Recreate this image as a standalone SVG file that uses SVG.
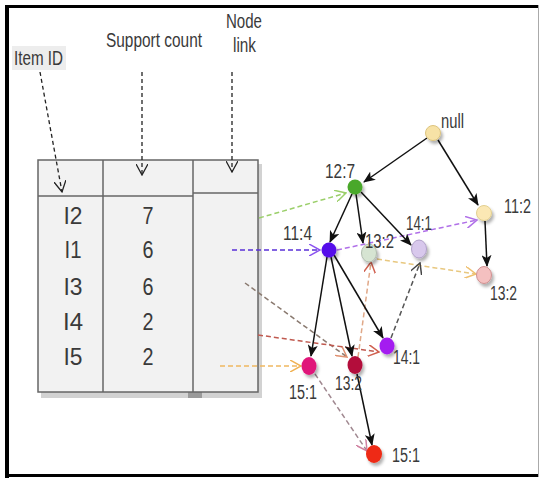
<svg xmlns="http://www.w3.org/2000/svg" width="542" height="480" viewBox="0 0 542 480">
<defs>
<style>
.t{font-family:"Liberation Sans",Arial,sans-serif;fill:#3a3a3a;}
.lbl{font-size:20.5px;}
.cell{font-size:24px;text-anchor:middle;}
.solid{stroke:#111;stroke-width:1.5;fill:none;marker-end:url(#ab);}
.dash{fill:none;stroke-width:1.5;stroke-dasharray:5 3;}
.hdr{fill:none;stroke:#222;stroke-width:1.3;stroke-dasharray:4 3;marker-end:url(#ok);}
</style>
<filter id="sh" x="-50%" y="-50%" width="200%" height="200%">
<feDropShadow dx="2" dy="3" stdDeviation="1.5" flood-color="#000" flood-opacity="0.3"/>
</filter>
<marker id="ab" viewBox="0 0 12 10" refX="11" refY="5" markerWidth="12" markerHeight="10" markerUnits="userSpaceOnUse" orient="auto"><path d="M0,0 L12,5 L0,10 L3,5 z" fill="#111"/></marker>
<marker id="ok" viewBox="0 0 12 12" refX="11" refY="6" markerWidth="12" markerHeight="12" markerUnits="userSpaceOnUse" orient="auto"><path d="M0,0 L11,6 L0,12" fill="none" stroke="#222" stroke-width="1.3"/></marker>
<marker id="mg" viewBox="0 0 12 12" refX="11" refY="6" markerWidth="12" markerHeight="12" markerUnits="userSpaceOnUse" orient="auto"><path d="M0,0 L11,6 L0,12" fill="none" stroke="#9bcf6a" stroke-width="1.5"/></marker>
<marker id="mb" viewBox="0 0 12 12" refX="11" refY="6" markerWidth="12" markerHeight="12" markerUnits="userSpaceOnUse" orient="auto"><path d="M0,0 L11,6 L0,12" fill="none" stroke="#8a50f0" stroke-width="1.5"/></marker>
<marker id="mv" viewBox="0 0 12 12" refX="11" refY="6" markerWidth="12" markerHeight="12" markerUnits="userSpaceOnUse" orient="auto"><path d="M0,0 L11,6 L0,12" fill="none" stroke="#b070e8" stroke-width="1.5"/></marker>
<marker id="my" viewBox="0 0 12 12" refX="11" refY="6" markerWidth="12" markerHeight="12" markerUnits="userSpaceOnUse" orient="auto"><path d="M0,0 L11,6 L0,12" fill="none" stroke="#efc070" stroke-width="1.5"/></marker>
<marker id="mr" viewBox="0 0 12 12" refX="11" refY="6" markerWidth="12" markerHeight="12" markerUnits="userSpaceOnUse" orient="auto"><path d="M0,0 L11,6 L0,12" fill="none" stroke="#e09070" stroke-width="1.5"/></marker>
<marker id="ms" viewBox="0 0 12 12" refX="11" refY="6" markerWidth="12" markerHeight="12" markerUnits="userSpaceOnUse" orient="auto"><path d="M0,0 L11,6 L0,12" fill="none" stroke="#d06050" stroke-width="1.5"/></marker>
<marker id="md" viewBox="0 0 12 12" refX="11" refY="6" markerWidth="12" markerHeight="12" markerUnits="userSpaceOnUse" orient="auto"><path d="M0,0 L11,6 L0,12" fill="none" stroke="#444" stroke-width="1.5"/></marker>
<marker id="mo" viewBox="0 0 12 12" refX="11" refY="6" markerWidth="12" markerHeight="12" markerUnits="userSpaceOnUse" orient="auto"><path d="M0,0 L11,6 L0,12" fill="none" stroke="#f0b050" stroke-width="1.5"/></marker>
<marker id="mp" viewBox="0 0 12 12" refX="11" refY="6" markerWidth="12" markerHeight="12" markerUnits="userSpaceOnUse" orient="auto"><path d="M0,0 L11,6 L0,12" fill="none" stroke="#d080a0" stroke-width="1.5"/></marker>
</defs>
<rect width="542" height="480" fill="#fff"/>
<g id="frame">
<rect x="5" y="5" width="4" height="473" fill="#000"/>
<rect x="5" y="5" width="533" height="3" fill="#000"/>
<rect x="5" y="474" width="533" height="3" fill="#000"/>
<line x1="538.5" y1="5" x2="538.5" y2="477" stroke="#aaa" stroke-width="1"/>
</g>
<g id="headers">
<rect x="12" y="46" width="54" height="24" fill="#ededed"/>
<text class="t lbl" x="14" y="65" textLength="49" lengthAdjust="spacingAndGlyphs">Item ID</text>
<text class="t lbl" x="106" y="47" textLength="96" lengthAdjust="spacingAndGlyphs">Support count</text>
<text class="t lbl" x="226" y="28" textLength="36" lengthAdjust="spacingAndGlyphs">Node</text>
<text class="t lbl" x="233" y="52" textLength="23" lengthAdjust="spacingAndGlyphs">link</text>
</g>
<g id="table">
<rect x="41" y="164" width="221" height="234" fill="#d2d2d2"/>
<rect x="188" y="392" width="14" height="6" fill="#9a9a9a"/>
<rect x="38" y="160" width="220" height="232" fill="#f2f2f2" stroke="#666" stroke-width="1.5"/>
<line x1="103" y1="160" x2="103" y2="392" stroke="#666" stroke-width="1.5"/>
<line x1="193" y1="160" x2="193" y2="392" stroke="#666" stroke-width="1.5"/>
<line x1="38" y1="196" x2="193" y2="196" stroke="#666" stroke-width="1.5"/>
<line x1="193" y1="193" x2="258" y2="193" stroke="#666" stroke-width="1.5"/>
<text class="t cell" x="73" y="224" textLength="19" lengthAdjust="spacingAndGlyphs">I2</text>
<text class="t cell" x="148" y="224" textLength="11" lengthAdjust="spacingAndGlyphs">7</text>
<text class="t cell" x="73" y="258" textLength="17" lengthAdjust="spacingAndGlyphs">I1</text>
<text class="t cell" x="148" y="258" textLength="11" lengthAdjust="spacingAndGlyphs">6</text>
<text class="t cell" x="73" y="295" textLength="19" lengthAdjust="spacingAndGlyphs">I3</text>
<text class="t cell" x="148" y="295" textLength="11" lengthAdjust="spacingAndGlyphs">6</text>
<text class="t cell" x="73" y="330" textLength="20" lengthAdjust="spacingAndGlyphs">I4</text>
<text class="t cell" x="148" y="330" textLength="11" lengthAdjust="spacingAndGlyphs">2</text>
<text class="t cell" x="73" y="365" textLength="19" lengthAdjust="spacingAndGlyphs">I5</text>
<text class="t cell" x="148" y="365" textLength="11" lengthAdjust="spacingAndGlyphs">2</text>
</g>
<g id="connectors">
<path class="hdr" d="M40,72 L62,192"/>
<path class="hdr" d="M142,72 L142,175"/>
<path class="hdr" d="M232,72 L232,172"/>
<path class="dash" stroke="#9bcf6a" marker-end="url(#mg)" d="M259,218 L346,193"/>
<path class="dash" stroke="#5a30d8" marker-end="url(#mb)" d="M232,250 L320,250"/>
<path class="dash" stroke="#b070e8" marker-end="url(#mv)" d="M337,250 L477,220"/>
<path class="dash" stroke="#e8c880" marker-end="url(#my)" d="M377,259 L476,274"/>
<path class="dash" stroke="#8a7a70" marker-end="url(#mr)" d="M245,283 L347,357"/>
<path class="dash" stroke="#c05a50" marker-end="url(#ms)" d="M258,335 L379,352"/>
<path class="dash" stroke="#e0a888" marker-end="url(#ms)" d="M358,357 L371,262"/>
<path class="dash" stroke="#555" marker-end="url(#md)" d="M391,338 L420,263"/>
<path class="dash" stroke="#f0b860" marker-end="url(#mo)" d="M220,366 L301,366"/>
<path class="dash" stroke="#a08890" stroke-width="1.2" marker-end="url(#mp)" d="M315,374 L367,451"/>
<path class="solid" d="M427,138 L364,182"/>
<path class="solid" d="M438,140 L478,205"/>
<path class="solid" d="M352,194 L330,242"/>
<path class="solid" d="M356,194 L363,243"/>
<path class="solid" d="M361,192 L411,245"/>
<path class="solid" d="M485,221 L487,266"/>
<path class="solid" d="M327,257 L311,356"/>
<path class="solid" d="M331,257 L352,356"/>
<path class="solid" d="M334,255 L383,338"/>
<path class="solid" d="M357,374 L372,445"/>
</g>
<g id="n-null"><circle cx="433" cy="133" r="7.5" fill="#f7e2a6" stroke="#dcc37e" filter="url(#sh)"/><text class="t lbl" x="441" y="128" textLength="23" lengthAdjust="spacingAndGlyphs">null</text></g>
<g id="n-12-7"><circle cx="355" cy="187" r="7.5" fill="#4aa82a" filter="url(#sh)"/><text class="t lbl" x="325" y="178" textLength="30" lengthAdjust="spacingAndGlyphs">12:7</text></g>
<g id="n-11-2"><circle cx="484" cy="213" r="7.5" fill="#fbe8b4" stroke="#e2cf90" filter="url(#sh)"/><text class="t lbl" x="504" y="213" textLength="27" lengthAdjust="spacingAndGlyphs">11:2</text></g>
<g id="n-11-4"><circle cx="329" cy="250" r="7.5" fill="#5510ea" filter="url(#sh)"/><text class="t lbl" x="283" y="240" textLength="29" lengthAdjust="spacingAndGlyphs">11:4</text></g>
<g id="n-13-2a"><ellipse cx="369" cy="253" rx="7.5" ry="9" fill="#d6e4d2" stroke="#b0bcae" filter="url(#sh)"/><text class="t lbl" x="365" y="248" textLength="29" lengthAdjust="spacingAndGlyphs">13:2</text></g>
<g id="n-14-1a"><ellipse cx="419" cy="249" rx="7.5" ry="9" fill="#d8c8ec" stroke="#b0a0c8" filter="url(#sh)"/><text class="t lbl" x="406" y="230" textLength="26" lengthAdjust="spacingAndGlyphs">14:1</text></g>
<g id="n-13-2b"><ellipse cx="484" cy="275" rx="7.5" ry="8.5" fill="#f4c0c0" stroke="#d09090" filter="url(#sh)"/><text class="t lbl" x="490" y="300" textLength="27" lengthAdjust="spacingAndGlyphs">13:2</text></g>
<g id="n-14-1b"><ellipse cx="387" cy="346" rx="7.5" ry="8.5" fill="#a41cf0" filter="url(#sh)"/><text class="t lbl" x="393" y="364" textLength="27" lengthAdjust="spacingAndGlyphs">14:1</text></g>
<g id="n-15-1a"><ellipse cx="309" cy="366" rx="7.5" ry="9" fill="#e0157a" filter="url(#sh)"/><text class="t lbl" x="289" y="399" textLength="28" lengthAdjust="spacingAndGlyphs">15:1</text></g>
<g id="n-13-2c"><ellipse cx="355" cy="365" rx="7.5" ry="9" fill="#b3103a" filter="url(#sh)"/><text class="t lbl" x="335" y="390" textLength="27" lengthAdjust="spacingAndGlyphs">13:2</text></g>
<g id="n-15-1b"><ellipse cx="374" cy="454" rx="8" ry="9" fill="#ee2a12" filter="url(#sh)"/><text class="t lbl" x="392" y="462" textLength="28" lengthAdjust="spacingAndGlyphs">15:1</text></g>
</svg>
